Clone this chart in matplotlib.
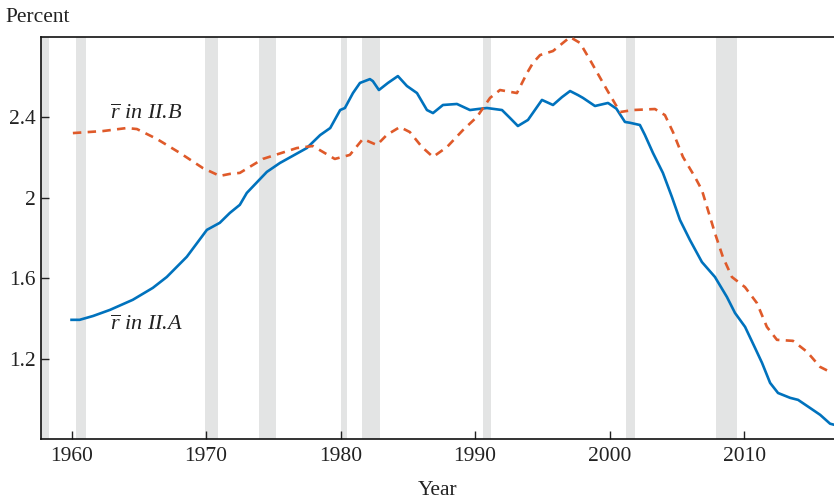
import matplotlib
matplotlib.use('Agg')
import matplotlib.pyplot as plt

# r-bar, model II.A (solid blue)
years_a = [1960.0, 1960.6, 1961.6, 1962.85, 1964.55, 1966.04, 1967.08, 1968.57,
           1970.06, 1971.02, 1971.77, 1972.51, 1973.03, 1974.52, 1975.49, 1977.49,
           1978.48, 1979.23, 1979.97, 1980.32, 1980.92, 1981.44, 1982.18, 1982.4,
           1982.85, 1983.52, 1984.26, 1984.93, 1985.68, 1986.42, 1986.87, 1987.61,
           1988.65, 1989.62, 1990.21, 1990.88, 1992.0, 1992.59, 1993.18, 1993.93,
           1994.97, 1995.79, 1996.46, 1997.06, 1997.65, 1998.02, 1998.91, 1999.88,
           2000.5, 2001.14, 2001.51, 2002.25, 2002.62, 2003.22, 2003.96, 2004.63,
           2005.23, 2005.97, 2006.86, 2007.83, 2008.72, 2009.32, 2010.07, 2010.81,
           2011.33, 2011.93, 2012.52, 2013.42, 2014.01, 2014.9, 2015.65, 2016.39,
           2016.68]
rbar_a = [1.395, 1.395, 1.414, 1.444, 1.494, 1.553, 1.607, 1.707,
          1.840, 1.875, 1.924, 1.964, 2.023, 2.127, 2.171, 2.245,
          2.309, 2.344, 2.433, 2.443, 2.517, 2.567, 2.586, 2.576,
          2.532, 2.567, 2.601, 2.552, 2.517, 2.433, 2.418, 2.458,
          2.463, 2.433, 2.438, 2.443, 2.433, 2.394, 2.354, 2.384,
          2.483, 2.458, 2.497, 2.527, 2.507, 2.493, 2.453, 2.468,
          2.440, 2.374, 2.370, 2.359, 2.310, 2.221, 2.122, 2.003,
          1.889, 1.790, 1.681, 1.607, 1.508, 1.429, 1.360, 1.256,
          1.182, 1.083, 1.033, 1.009, 0.999, 0.959, 0.925, 0.881,
          0.876]

# r-bar, model II.B (dashed orange)
years_b = [1960.1, 1962.33, 1964.11, 1964.86, 1966.34, 1968.05, 1969.76, 1971.02,
           1971.77, 1972.51, 1974.22, 1976.75, 1977.94, 1979.57, 1980.69, 1981.66,
           1982.7, 1983.44, 1984.41, 1985.15, 1986.05, 1986.87, 1987.91, 1989.1,
           1990.14, 1991.11, 1991.85, 1993.11, 1993.86, 1994.3, 1994.83, 1995.79,
           1997.06, 1997.8, 1998.54, 1999.81, 2000.77, 2001.73, 2003.37, 2004.11,
           2004.71, 2005.45, 2006.34, 2006.86, 2007.31, 2007.83, 2008.42, 2009.09,
           2010.06, 2010.95, 2011.69, 2012.44, 2013.63, 2014.67, 2015.65, 2016.54]
rbar_b = [2.319, 2.329, 2.344, 2.339, 2.290, 2.221, 2.146, 2.107,
          2.117, 2.122, 2.191, 2.245, 2.255, 2.191, 2.211, 2.290,
          2.260, 2.310, 2.349, 2.324, 2.250, 2.201, 2.250, 2.334,
          2.399, 2.493, 2.532, 2.517, 2.616, 2.666, 2.705, 2.725,
          2.794, 2.765, 2.681, 2.532, 2.423, 2.433, 2.438, 2.408,
          2.324, 2.201, 2.102, 2.037, 1.938, 1.824, 1.706, 1.607,
          1.557, 1.478, 1.360, 1.296, 1.291, 1.237, 1.162, 1.132]

# NBER recessions (start, end)
recessions = [(1957.6, 1958.3), (1960.3, 1961.1), (1969.9, 1970.9),
              (1973.9, 1975.2), (1980.0, 1980.5), (1981.6, 1982.9),
              (1990.6, 1991.2), (2001.2, 2001.9), (2007.9, 2009.5)]

xticks = [1960, 1970, 1980, 1990, 2000, 2010]
yticks = [1.2, 1.6, 2.0, 2.4]
yticklabels = ['1.2', '1.6', '2', '2.4']

plt.rcParams['font.family'] = 'Liberation Serif'
plt.rcParams['mathtext.fontset'] = 'custom'
plt.rcParams['mathtext.rm'] = 'Liberation Serif'
plt.rcParams['mathtext.it'] = 'Liberation Serif:italic'

fig = plt.figure(figsize=(8.34, 5.01), dpi=100)
ax = fig.add_axes([0.049, 0.124, 0.951, 0.802])

for start, end in recessions:
    ax.axvspan(start, end, color='#E3E4E4', lw=0, zorder=0)

ax.plot(years_a, rbar_a, color='#0072BD', lw=1.9, zorder=3,
        solid_joinstyle='round')
ax.plot(years_b, rbar_b, color='#DF5A2A', lw=1.9, dashes=(3.2, 2.4), zorder=3)

ax.text(1962.85, 2.413, r'$\overline{r}$ in II.B', fontsize=16, style='italic',
        color='#222222', va='center', ha='left')
ax.text(1962.85, 1.37, r'$\overline{r}$ in II.A', fontsize=16, style='italic',
        color='#222222', va='center', ha='left')

ax.set_xlim(1957.72, 2016.68)
ax.set_ylim(0.806, 2.794)
ax.set_xticks(xticks)
ax.set_yticks(yticks)
ax.set_yticklabels(yticklabels)
ax.tick_params(direction='in', length=6, width=1, labelsize=15.5,
               colors='#222222', pad=6)
ax.tick_params(axis='y', pad=4)

for side in ['left', 'bottom', 'top']:
    ax.spines[side].set_linewidth(1.2)
    ax.spines[side].set_color('#111111')
ax.spines['right'].set_visible(False)

ax.set_xlabel('Year', fontsize=15.5, color='#222222', labelpad=11)
fig.text(0.006, 0.966, 'Percent', fontsize=15.5, color='#222222',
         ha='left', va='center')

fig.savefig('out.png', dpi=100)
